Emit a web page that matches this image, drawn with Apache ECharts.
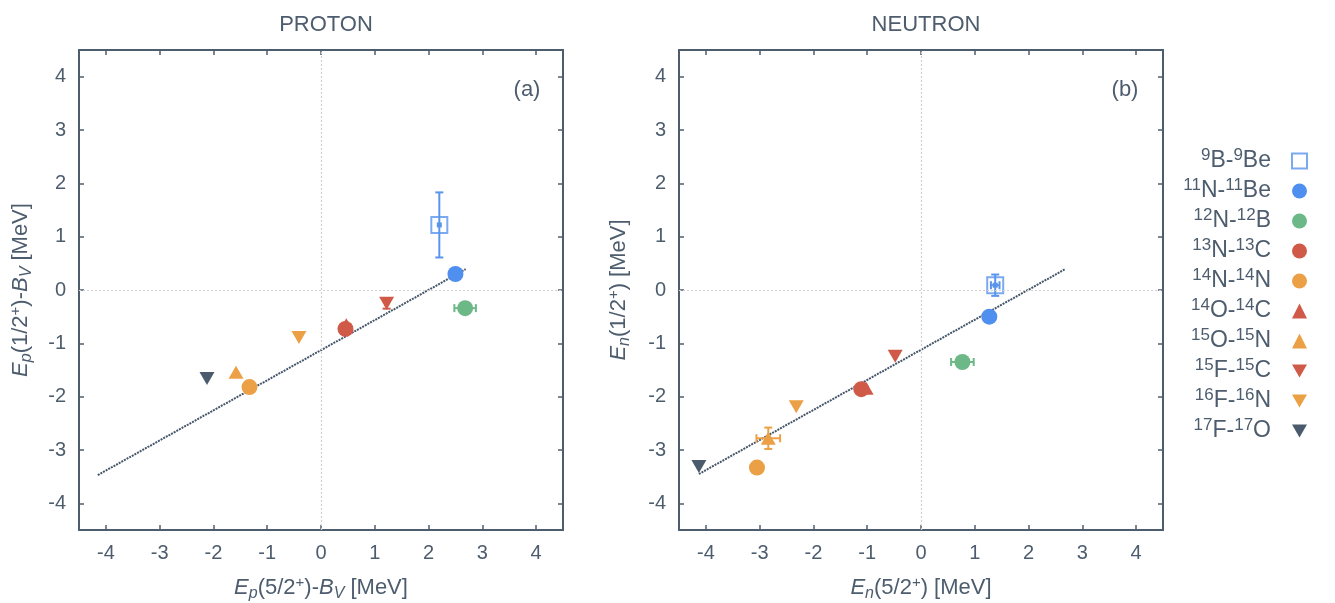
<!DOCTYPE html>
<html>
<head>
<meta charset="utf-8">
<script src="https://cdn.jsdelivr.net/npm/echarts@6/dist/echarts.min.js"></script>
<style>html,body{margin:0;padding:0;background:#fff}#c{width:1335px;height:603px}</style>
</head>
<body>
<div id="c"></div>
<script>
const names = ['9B-9Be','11N-11Be','12N-12B','13N-13C','14N-14N','14O-14C','15O-15N','15F-15C','16F-16N','17F-17O'];
const legendLabels = ['{s|9}B-{s|9}Be','{s|11}N-{s|11}Be','{s|12}N-{s|12}B','{s|13}N-{s|13}C','{s|14}N-{s|14}N','{s|14}O-{s|14}C','{s|15}O-{s|15}N','{s|15}F-{s|15}C','{s|16}F-{s|16}N','{s|17}F-{s|17}O'];
const protonX  = [2.20, 2.50, 2.68, 0.455, -1.33, 0.47, -1.58, 1.22, -0.41, -2.12];
const protonY  = [1.22, 0.30, -0.34, -0.73, -1.82, -0.65, -1.54, -0.25, -0.89, -1.66];
const protonErrX = [0, 0, 0.20, 0, 0, 0, 0, 0, 0, 0];
const protonErrY = [0.61, 0, 0, 0, 0, 0, 0, 0.10, 0, 0];
const neutronX = [1.38, 1.27, 0.77, -1.11, -3.05, -1.02, -2.84, -0.48, -2.32, -4.13];
const neutronY = [0.09, -0.50, -1.35, -1.86, -3.33, -1.84, -2.78, -1.24, -2.19, -3.31];
const neutronErrX = [0.08, 0, 0.21, 0, 0, 0, 0.22, 0, 0, 0];
const neutronErrY = [0.20, 0, 0, 0, 0, 0, 0.20, 0, 0, 0];
const fitProtonX = [-4.15, 2.69];
const fitProtonY = [-3.47, 0.39];
const fitNeutronX = [-4.13, 2.68];
const fitNeutronY = [-3.45, 0.39];
const tickValues = [-4, -3, -2, -1, 0, 1, 2, 3, 4];
const panelTitles = ['PROTON', 'NEUTRON'];
const panelTags = ['(a)', '(b)'];

const colors = ['#5a95ec', '#4f8fef', '#6cb887', '#d05a48', '#eca046', '#d05a48', '#eca046', '#d05a48', '#eca046', '#4b5b6d'];
const DOWN = 'path://M0,0 L10,0 L5,8.66 Z';
const symbols = ['rect','circle','circle','circle','circle','triangle','triangle', DOWN, DOWN, DOWN];
const sizes = [16,16,16,16,16,[15,13],[15,13],[15,13],[15,13],[15,13]];
const TXT = '#4d5d6e';
const FONT = 'Liberation Sans';

const grids = [
  {left: 79, top: 50, width: 484, height: 480, outerBoundsMode: 'none', containLabel: false},
  {left: 679, top: 50, width: 484, height: 480, outerBoundsMode: 'none', containLabel: false}
];

function axisCommon(extra) {
  return Object.assign({
    type: 'value', min: -4.5, max: 4.5,
    axisLine: {show: true, onZero: false, lineStyle: {color: TXT, width: 2}},
    axisTick: {show: true, inside: true, length: 5, customValues: tickValues, lineStyle: {color: TXT, width: 1.5}},
    axisLabel: {show: true, customValues: tickValues, color: TXT, fontSize: 20, fontFamily: FONT, margin: 13},
    splitLine: {show: false}
  }, extra);
}

const xAxes = [], yAxes = [];
const xNames = [
  '{i|E}{sub|p}(5/2{sup|+})-{i|B}{sub|V} [MeV]',
  '{i|E}{sub|n}(5/2{sup|+}) [MeV]'
];
const yNames = [
  '{i|E}{sub|p}(1/2{sup|+})-{i|B}{sub|V} [MeV]',
  '{i|E}{sub|n}(1/2{sup|+}) [MeV]'
];
const nameRich = {
  i: {fontStyle: 'italic', fontSize: 22, color: TXT, fontFamily: FONT},
  sub: {fontStyle: 'italic', fontSize: 16, color: TXT, fontFamily: FONT, padding: [12, 0, 0, 0]},
  sup: {fontSize: 15, color: TXT, fontFamily: FONT, padding: [0, 0, 11, 0]}
};
for (let g = 0; g < 2; g++) {
  xAxes.push(axisCommon({gridIndex: g, position: 'bottom', name: xNames[g], nameLocation: 'middle', nameGap: 44,
    nameTextStyle: {color: TXT, fontSize: 22, fontFamily: FONT, rich: nameRich}}));
  xAxes.push(axisCommon({gridIndex: g, position: 'top', axisLabel: {show: false}}));
  yAxes.push(axisCommon({gridIndex: g, position: 'left', name: yNames[g], nameLocation: 'middle', nameGap: g === 0 ? 44 : 46,
    nameTextStyle: {color: TXT, fontSize: 22, fontFamily: FONT, rich: nameRich}}));
  yAxes.push(axisCommon({gridIndex: g, position: 'right', axisLabel: {show: false}}));
}

const series = [];
const panels = [
  {xs: protonX, ys: protonY, ex: protonErrX, ey: protonErrY, fx: fitProtonX, fy: fitProtonY},
  {xs: neutronX, ys: neutronY, ex: neutronErrX, ey: neutronErrY, fx: fitNeutronX, fy: fitNeutronY}
];
panels.forEach((p, g) => {
  series.push({
    type: 'line', xAxisIndex: 2 * g, yAxisIndex: 2 * g, z: 1,
    data: p.fx.map((x, k) => [x, p.fy[k]]),
    showSymbol: false, symbol: 'none', silent: true,
    lineStyle: {color: '#45556a', width: 2, type: [2, 1]},
    markLine: {silent: true, symbol: 'none', label: {show: false},
      lineStyle: {color: '#d0d0d0', type: [2, 2], width: 1.2},
      data: [{xAxis: 0}, {yAxis: 0}]}
  });
  const errData = [];
  p.xs.forEach((x, k) => { if (p.ex[k] || p.ey[k]) errData.push([x, p.ys[k], p.ex[k], p.ey[k], k]); });
  series.push({
    type: 'custom', xAxisIndex: 2 * g, yAxisIndex: 2 * g, z: 3, silent: true,
    data: errData,
    renderItem: function (params, api) {
      const x = api.value(0), y = api.value(1), ex = api.value(2), ey = api.value(3), k = api.value(4);
      const c = api.coord([x, y]);
      const col = colors[k];
      const st = {stroke: col, lineWidth: 2, fill: null};
      const ch = [];
      const cap = 4;
      if (ey) {
        const t = api.coord([x, y + ey]), b = api.coord([x, y - ey]);
        ch.push({type: 'line', shape: {x1: c[0], y1: t[1], x2: c[0], y2: b[1]}, style: st});
        ch.push({type: 'line', shape: {x1: c[0] - cap, y1: t[1], x2: c[0] + cap, y2: t[1]}, style: st});
        ch.push({type: 'line', shape: {x1: c[0] - cap, y1: b[1], x2: c[0] + cap, y2: b[1]}, style: st});
      }
      if (ex) {
        const l = api.coord([x - ex, y]), r = api.coord([x + ex, y]);
        ch.push({type: 'line', shape: {x1: l[0], y1: c[1], x2: r[0], y2: c[1]}, style: st});
        ch.push({type: 'line', shape: {x1: l[0], y1: c[1] - cap, x2: l[0], y2: c[1] + cap}, style: st});
        ch.push({type: 'line', shape: {x1: r[0], y1: c[1] - cap, x2: r[0], y2: c[1] + cap}, style: st});
      }
      ch.push({type: 'rect', shape: {x: c[0] - 2.5, y: c[1] - 2.5, width: 5, height: 5}, style: {fill: col}});
      return {type: 'group', children: ch};
    }
  });
  names.forEach((n, k) => {
    const isOpen = k === 0;
    series.push({
      type: 'scatter', name: n, xAxisIndex: 2 * g, yAxisIndex: 2 * g, z: isOpen ? 4 : 2,
      symbol: symbols[k], symbolSize: sizes[k],
      itemStyle: isOpen ? {color: 'rgba(255,255,255,0)', borderColor: colors[k], borderWidth: 2} : {color: colors[k], opacity: 1},
      emphasis: {disabled: true},
      data: [[p.xs[k], p.ys[k]]]
    });
  });
});

const chart = echarts.init(document.getElementById('c'), null, {renderer: 'canvas'});
chart.setOption({
  animation: false,
  backgroundColor: '#fff',
  textStyle: {fontFamily: FONT, color: TXT},
  title: panelTitles.map((t, g) => ({
    text: t, left: g === 0 ? 321 : 921, top: 9, textAlign: 'center',
    textStyle: {color: TXT, fontSize: 22, fontWeight: 'normal', fontFamily: FONT}
  })),
  graphic: panelTags.map((t, g) => ({
    type: 'text', x: g === 0 ? 527 : 1125, y: 90,
    style: {text: t, fill: TXT, font: '22px ' + FONT, textAlign: 'center', textVerticalAlign: 'middle'}
  })),
  grid: grids,
  xAxis: xAxes,
  yAxis: yAxes,
  legend: {
    orient: 'vertical', right: 22, top: 142, align: 'right',
    itemWidth: 15, itemHeight: 15, itemGap: 4,
    data: names.map((n, k) => ({name: n})),
    formatter: function (n) { return legendLabels[names.indexOf(n)]; },
    textStyle: {color: TXT, fontSize: 23, fontFamily: FONT, lineHeight: 24, padding: [0, 16, 0, 0],
      rich: {s: {fontSize: 17, color: TXT, fontFamily: FONT, padding: [0, 0, 11, 0]}}}
  },
  series: series
});
</script>
</body>
</html>
